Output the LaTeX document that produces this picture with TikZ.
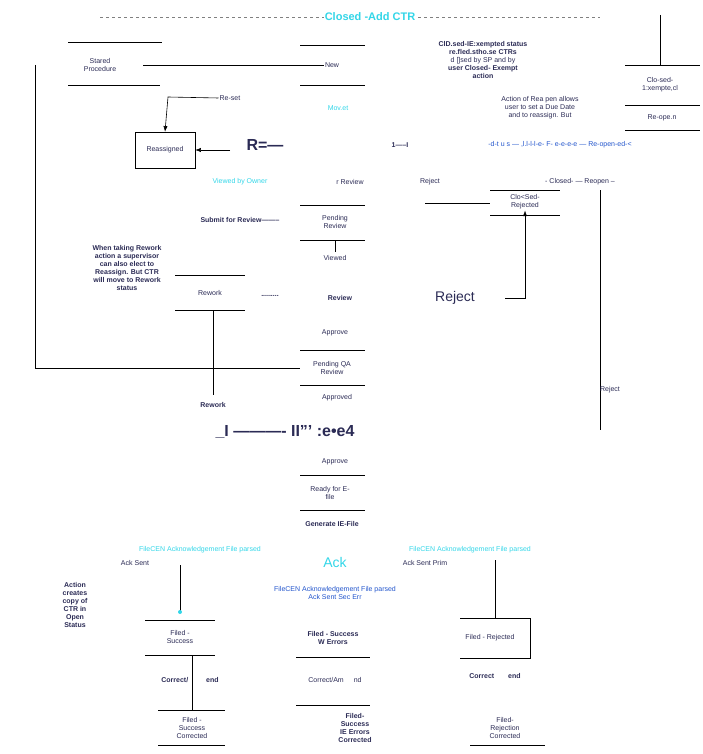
\documentclass[tikz,border=0pt]{standalone}
\usepackage{fontspec}
\setmainfont{Liberation Sans}
\usetikzlibrary{arrows.meta}
\definecolor{cy}{HTML}{33D6E8}
\definecolor{nv}{HTML}{2B2B55}
\definecolor{bl}{HTML}{2255CC}
\begin{document}
\begin{tikzpicture}[x=1pt,y=-1pt,
 t/.style={font=\fontsize{7}{8}\selectfont,text=nv,align=center,inner sep=1pt},
 tb/.style={t,font=\fontsize{7}{8}\selectfont\bfseries},
 ln/.style={draw=black,line width=0.6pt},
 cyt/.style={t,text=cy,font=\fontsize{7}{8}\selectfont},
 big/.style={t,font=\fontsize{16}{16}\selectfont\bfseries}]
\useasboundingbox (0,0) rectangle (703,754);
\draw[dashed,gray] (100,17) -- (600,17);
\node[cyt,font=\fontsize{11}{12}\selectfont\bfseries,fill=white] (title) at (370,17) {Closed -Add CTR};
\draw[ln] (660,15) -- (660,65);
% started
\node[t] (st) at (100,65) {Stared\\Procedure};
\draw[ln] (68,42) -- (162,42); \draw[ln] (68,85) -- (160,85);
\draw[ln] (35,65) -- (35,368) -- (300,368);
\node[t] (new) at (332,65) {New};
\draw[ln] (300,45) -- (365,45); \draw[ln] (300,85) -- (365,85);
\draw[ln] (143,65) -- (new.west);
\node[tb] (tr) at (483,60) {ClD.sed-IE:xempted status\\re.fled.stho.se CTRs\\{\mdseries d []sed by SP and by}\\user Closed- Exempt\\action};
\node[t] (ce) at (660,85) {Clo-sed-\\1:xempte,cl};
\draw[ln] (625,65) -- (700,65); \draw[ln] (625,105) -- (700,105);
\node[t] (ro) at (662,118) {Re-ope.n};
\draw[ln] (625,130) -- (700,130);
\node[t,draw,minimum width=60pt,minimum height=36pt] (ra) at (165,150) {Reassigned};
\node[t] (rs) at (230,98) {Re-set};
\draw[ln,-{Latex}] (rs.west) -- (168,97) -- (ra.north);
\node[cyt] (mv) at (338,108) {Mov.et};
\node[t] (act) at (540,108) {Action of Rea pen allows\\user to set a Due Date\\and to reassign. But};
\node[big] (rr) at (265,145) {R=---};
\node[tb] (r1) at (400,145) {1-----I};
\node[t,text=bl] (rdots) at (560,145) {-d-t u s --- ,l.l-l-l-e- F- e-e-e-e --- Re-open-ed-<};
\draw[ln,-{Latex}] (230,150) -- (ra.east);
\node[cyt] (vo) at (240,182) {Viewed by Owner};
\node[t] (rv) at (350,182) {r Review};
\node[t] (rj) at (430,182) {Reject};
\node[t] (cr) at (580,182) {- Closed- --- Reopen --};
\node[t] (pr) at (335,222) {Pending\\Review};
\draw[ln] (300,205) -- (365,205); \draw[ln] (300,240) -- (365,240);
\node[tb] (sfr) at (240,220) {Submit for Review--------};
\node[t] (crj) at (525,202) {Clo<Sed-\\Rejected};
\draw[ln] (490,190) -- (560,190); \draw[ln] (490,215) -- (560,215);
\draw[ln] (425,203) -- (490,203);
\draw[ln,-{Latex}] (525,270) -- (crj.south);
\draw[ln] (505,298) -- (525,298) -- (525,270);
\draw[ln] (600,190) -- (600,430);
\node[t] (rj2) at (610,390) {Reject};
\draw[ln] (335,240) -- (335,252);
\node[t] (vw) at (335,258) {Viewed};
\node[tb] (wt) at (127,268) {When taking Rework\\action a supervisor\\can also elect to\\Reassign. But CTR\\will move to Rework\\status};
\node[t] (rw) at (210,293) {Rework};
\draw[ln] (175,275) -- (245,275); \draw[ln] (175,310) -- (245,310);
\node[tb] (dots) at (270,296) {.........};
\node[tb] (rev) at (340,298) {Review};
\node[big,font=\fontsize{14}{14}\selectfont] (rjb) at (455,298) {Reject};
\node[t] (ap1) at (335,333) {Approve};
\node[t] (pq) at (332,368) {Pending QA\\Review};
\draw[ln] (300,350) -- (365,350); \draw[ln] (300,385) -- (365,385);
\draw[ln] (213,310) -- (213,395);
\node[tb] (rw2) at (213,405) {Rework};
\node[t] (apd) at (337,398) {Approved};
\node[big] (bb) at (285,432) {\_I ---------- II''' :e•e4};
\node[t] (ap2) at (335,462) {Approve};
\draw[ln] (300,475) -- (365,475); \draw[ln] (300,510) -- (365,510);
\node[t] (rf) at (330,493) {Ready for E-\\file};
\node[tb] (ge) at (332,524) {Generate IE-File};
\node[cyt] (fa) at (200,550) {FileCEN Acknowledgement File parsed};
\node[cyt] (fb) at (470,550) {FileCEN Acknowledgement File parsed};
\node[big,text=cy,font=\fontsize{14}{14}\selectfont] (ack) at (335,562) {Ack};
\node[t] (as) at (135,563) {Ack Sent};
\node[t] (as2) at (425,563) {Ack Sent  Prim};
\node[t,text=bl] (fc) at (335,593) {FileCEN Acknowledgement File parsed\\Ack Sent Sec Err};
\node[tb] (ac) at (75,605) {Action\\creates\\copy of\\CTR in\\Open\\Status};
\draw[ln] (180,565) -- (180,612); \fill[cy] (180,612) circle (2);
\draw[ln] (495,560) -- (495,618);
\node[t] (fs) at (180,637) {Filed -\\Success};
\draw[ln] (145,620) -- (215,620); \draw[ln] (145,655) -- (215,655);
\draw[ln] (192,655) -- (192,710);
\node[tb] (ce1) at (190,680) {Correct/\hspace{18pt}end};
\node[t] (fsc) at (192,728) {Filed -\\Success\\Corrected};
\draw[ln] (158,710) -- (225,710); \draw[ln] (158,745) -- (225,745);
\node[tb] (fw) at (333,638) {Filed - Success\\W Errors};
\draw[ln] (296,657) -- (370,657);
\node[t] (ca) at (335,680) {Correct/Am\hspace{10pt}nd};
\draw[ln] (296,705) -- (370,705);
\node[tb] (fse) at (355,728) {Filed-\\Success\\IE Errors\\Corrected};
\node[t] (fr) at (490,638) {Filed - Rejected};
\draw[ln] (460,618) -- (530,618) -- (530,658) -- (460,658);
\node[tb] (ce3) at (495,676) {Correct\hspace{14pt}end};
\node[t] (frc) at (505,728) {Filed-\\Rejection\\Corrected};
\draw[ln] (470,745) -- (545,745);
\end{tikzpicture}
\end{document}
